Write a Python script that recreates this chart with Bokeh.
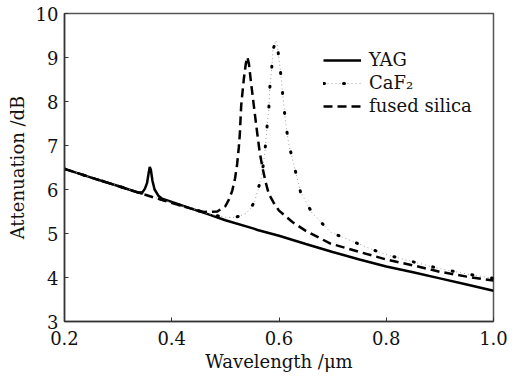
from bokeh.plotting import figure
from bokeh.models import Range1d, FixedTicker, Legend, LegendItem
from bokeh.embed import file_html
from bokeh.resources import INLINE

# ---- data ----
yag_wl = [0.20, 0.25, 0.30, 0.32, 0.335, 0.345, 0.350, 0.354, 0.357, 0.359, 0.361,
          0.364, 0.368, 0.375, 0.382, 0.40, 0.435, 0.47, 0.50, 0.553, 0.56, 0.60,
          0.65, 0.70, 0.75, 0.80, 0.85, 0.90, 0.95, 1.00]
yag_att = [6.47, 6.27, 6.08, 6.00, 5.94, 5.93, 6.02, 6.15, 6.38, 6.51, 6.45,
           6.20, 6.00, 5.86, 5.79, 5.72, 5.57, 5.43, 5.30, 5.11, 5.08, 4.95,
           4.76, 4.58, 4.41, 4.25, 4.12, 3.98, 3.84, 3.70]

caf2_wl = [0.20, 0.25, 0.30, 0.34, 0.385, 0.435, 0.47, 0.50, 0.513, 0.525, 0.538,
           0.548, 0.555, 0.561, 0.566, 0.570, 0.574, 0.578, 0.581, 0.583, 0.586,
           0.589, 0.594, 0.597, 0.602, 0.605, 0.609, 0.612, 0.618, 0.625, 0.64,
           0.662, 0.678, 0.69, 0.696, 0.771, 0.80, 0.852, 0.90, 0.95, 1.00]
caf2_att = [6.47, 6.27, 6.08, 5.93, 5.76, 5.57, 5.44, 5.37, 5.36, 5.39, 5.45,
            5.58, 5.75, 6.00, 6.24, 6.50, 6.90, 7.47, 7.83, 8.33, 8.69,
            9.18, 9.39, 9.26, 8.77, 8.40, 7.91, 7.55, 7.04, 6.70, 5.95,
            5.46, 5.26, 5.11, 5.03, 4.65, 4.52, 4.35, 4.20, 4.08, 3.98]

fs_wl = [0.20, 0.25, 0.30, 0.34, 0.385, 0.435, 0.46, 0.485, 0.50, 0.507, 0.513,
         0.518, 0.522, 0.525, 0.527, 0.5295, 0.5345, 0.538, 0.541, 0.544, 0.547,
         0.553, 0.5595, 0.564, 0.569, 0.575, 0.581, 0.59, 0.60, 0.625, 0.65,
         0.696, 0.75, 0.80, 0.852, 0.90, 0.95, 1.00]
fs_att = [6.47, 6.27, 6.08, 5.92, 5.75, 5.57, 5.49, 5.50, 5.62, 5.78, 5.98,
          6.25, 6.58, 6.95, 7.27, 7.91, 8.52, 8.85, 9.01, 8.85, 8.52,
          7.91, 7.27, 6.85, 6.51, 6.17, 5.90, 5.70, 5.52, 5.26, 5.06,
          4.77, 4.58, 4.41, 4.27, 4.13, 4.02, 3.93]

x_ticks = [0.2, 0.4, 0.6, 0.8, 1.0]
x_tick_labels = ["0.2", "0.4", "0.6", "0.8", "1.0"]
y_ticks = [3, 4, 5, 6, 7, 8, 9, 10]

FONT = "DejaVu Serif"
FS = "18px"

p = figure(width=520, height=376, x_range=Range1d(0.2, 1.0), y_range=Range1d(3, 10),
           output_backend="svg", toolbar_location=None,
           min_border_left=64, min_border_right=27, min_border_top=13, min_border_bottom=55)
p.background_fill_color = "white"
p.border_fill_color = "white"
p.outline_line_color = "#555555"
p.outline_line_width = 1.5
p.grid.visible = False

for ax in (p.xaxis[0], p.yaxis[0]):
    ax.axis_line_color = "#333333"
    ax.axis_line_width = 1.5
    ax.major_tick_in = 4
    ax.major_tick_out = 0
    ax.major_tick_line_color = "#333333"
    ax.minor_tick_line_color = None
    ax.major_label_text_font = FONT
    ax.major_label_text_font_size = FS
    ax.major_label_text_color = "#111111"
    ax.axis_label_text_font = FONT
    ax.axis_label_text_font_size = FS
    ax.axis_label_text_font_style = "normal"
    ax.axis_label_text_color = "#111111"

p.xaxis.ticker = FixedTicker(ticks=x_ticks)
p.xaxis.major_label_overrides = {t: l for t, l in zip(x_ticks, x_tick_labels)}
p.yaxis.ticker = FixedTicker(ticks=y_ticks)
p.xaxis.axis_label = "Wavelength /\u03bcm"
p.yaxis.axis_label = "Attenuation /dB"
p.xaxis.major_label_standoff = 9
p.xaxis.axis_label_standoff = 3
p.yaxis.major_label_standoff = 6
p.yaxis.axis_label_standoff = 5

r_yag = p.line(yag_wl, yag_att, line_color="black", line_width=2.5)
r_caf_gray = p.line(caf2_wl, caf2_att, line_color="#a0a0a0", line_width=1, line_dash="1 3")
r_caf_dots = p.line(caf2_wl, caf2_att, line_color="black", line_width=3,
                    line_dash="1 19", line_cap="round")
r_fs = p.line(fs_wl, fs_att, line_color="black", line_width=2.5, line_dash="9 5")

legend = Legend(items=[
    LegendItem(label="YAG", renderers=[r_yag]),
    LegendItem(label="CaF\u2082", renderers=[r_caf_gray, r_caf_dots]),
    LegendItem(label="fused silica", renderers=[r_fs]),
], location=(259, 205))
legend.padding = 0
legend.margin = 0
legend.spacing = 2
legend.glyph_width = 38
legend.glyph_height = 20
legend.label_height = 20
legend.label_standoff = 8
legend.label_text_font = FONT
legend.label_text_font_size = FS
legend.label_text_color = "#111111"
legend.border_line_color = None
legend.background_fill_alpha = 0
p.add_layout(legend)

open("out.html", "w").write(file_html(p, INLINE))
